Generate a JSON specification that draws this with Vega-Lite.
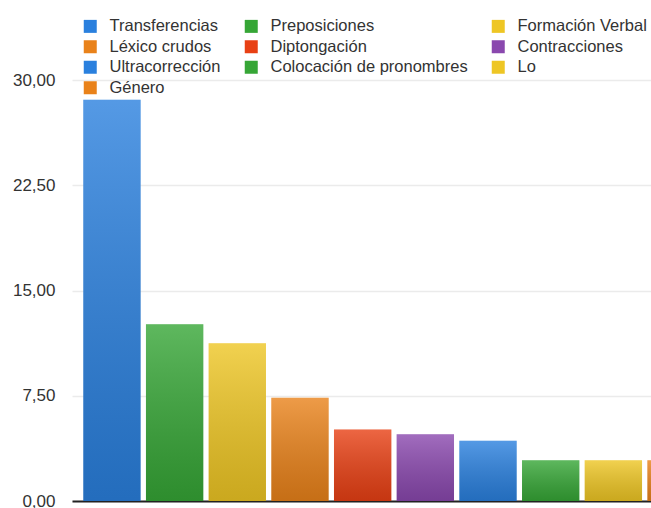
{
  "$schema": "https://vega.github.io/schema/vega-lite/v6.json",
  "autosize": "none",
  "width": 579,
  "height": 421,
  "padding": {"left": 72, "top": 80, "right": 0, "bottom": 7},
  "background": "white",
  "config": {
    "font": "Liberation Sans",
    "view": {"stroke": null}
  },
  "data": {
    "values": [
      {"categoria": "Transferencias", "valor": 28.6},
      {"categoria": "Preposiciones", "valor": 12.6},
      {"categoria": "Formación Verbal", "valor": 11.25},
      {"categoria": "Léxico crudos", "valor": 7.35},
      {"categoria": "Diptongación", "valor": 5.1},
      {"categoria": "Contracciones", "valor": 4.75},
      {"categoria": "Ultracorrección", "valor": 4.3},
      {"categoria": "Colocación de pronombres", "valor": 2.9},
      {"categoria": "Lo", "valor": 2.9},
      {"categoria": "Género", "valor": 2.9}
    ]
  },
  "encoding": {
    "x": {
      "field": "categoria",
      "type": "nominal",
      "sort": null,
      "scale": {"range": [0, 644], "paddingInner": 0.085, "paddingOuter": 0.18},
      "axis": {"title": null, "labels": false, "ticks": false, "domain": true, "domainColor": "#222", "domainWidth": 2, "grid": false}
    },
    "y": {
      "field": "valor",
      "type": "quantitative",
      "scale": {"domain": [0, 30], "nice": false},
      "axis": {
        "title": null,
        "values": [0, 7.5, 15, 22.5, 30],
        "labelExpr": "replace(format(datum.value, '.2f'), '.', ',')",
        "labelFontSize": 17,
        "labelColor": "#333",
        "labelPadding": 17,
        "ticks": false,
        "domain": false,
        "grid": true,
        "gridColor": "#ebebeb",
        "gridWidth": 1.5
      }
    }
  },
  "layer": [
    {
      "mark": {"type": "bar"},
      "encoding": {
        "color": {
          "field": "categoria",
          "type": "nominal",
          "sort": null,
          "scale": {
            "domain": ["Transferencias", "Preposiciones", "Formación Verbal", "Léxico crudos", "Diptongación", "Contracciones", "Ultracorrección", "Colocación de pronombres", "Lo", "Género"],
            "range": ["#2a80de", "#36a636", "#eec624", "#e9821a", "#e84014", "#8a48ae", "#2a80de", "#36a636", "#eec624", "#e9821a"]
          },
          "legend": {
            "title": null,
            "orient": "none",
            "legendX": 10,
            "legendY": -62,
            "columns": 3,
            "direction": "horizontal",
            "columnPadding": 22,
            "rowPadding": 3.5,
            "symbolType": "square",
            "symbolSize": 169,
            "symbolStrokeWidth": 0,
            "labelFontSize": 16.5,
            "labelColor": "#333",
            "labelOffset": 11,
            "labelLimit": 300,
            "padding": 0
          }
        }
      }
    },
    {
      "mark": {
        "type": "bar",
        "color": {
          "gradient": "linear",
          "x1": 0, "y1": 0, "x2": 0, "y2": 1,
          "stops": [
            {"offset": 0, "color": "rgba(255,255,255,0.2)"},
            {"offset": 1, "color": "rgba(0,0,0,0.15)"}
          ]
        }
      }
    }
  ]
}
